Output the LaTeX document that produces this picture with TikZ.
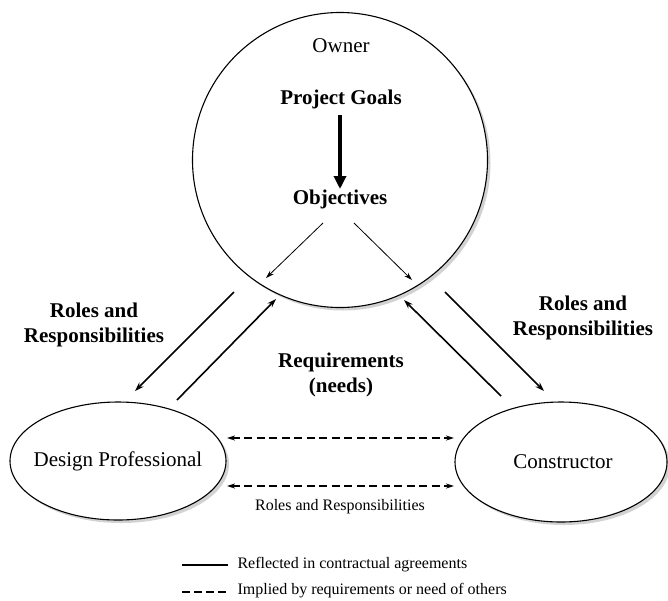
\documentclass[tikz,border=0pt]{standalone}
\usepackage{fontspec}
\setmainfont{Liberation Serif}
\usetikzlibrary{arrows.meta,shadows,shapes.geometric}
\begin{document}
\begin{tikzpicture}[x=1pt,y=-1pt,
  party/.style={draw,line width=1.1pt,fill=white,
    drop shadow={opacity=0.35,shadow xshift=3pt,shadow yshift=-3pt}},
  flow/.style={-{Stealth[length=9pt,width=6pt]},line width=1.6pt},
  thinflow/.style={-{Stealth[length=8pt,width=5pt]},line width=0.8pt},
  implied/.style={{Stealth[length=8pt,width=5pt]}-{Stealth[length=8pt,width=5pt]},
    line width=1.4pt,dash pattern=on 8pt off 4.5pt},
  boldlabel/.style={font=\fontsize{21}{25.5}\selectfont\bfseries,align=center},
  plainlabel/.style={font=\fontsize{21}{25.5}\selectfont,align=center},
  smalllabel/.style={font=\fontsize{16}{18}\selectfont},
  legendtext/.style={font=\fontsize{16}{18}\selectfont,anchor=west}]
\useasboundingbox (0,0) rectangle (668,600);
\fill[white] (0,0) rectangle (668,600);

% the three parties
\draw[party] (340,160) circle[radius=147.5];
\node[party,ellipse,minimum width=216pt,minimum height=118pt,inner sep=0pt]
  (dp) at (118,461) {};
\node[party,ellipse,minimum width=212pt,minimum height=120pt,inner sep=0pt]
  (con) at (561,462) {};
\node[plainlabel] at (dp) {Design Professional};
\node[plainlabel] at (563,462) {Constructor};

% inside the owner circle
\node[plainlabel] (owner) at (341,46) {Owner};
\node[boldlabel] (goals) at (341,99) {Project Goals};
\node[boldlabel] (obj) at (340,199) {Objectives};
\coordinate (g1) at (340,115);
\coordinate (g2) at (340,189);
\draw[-{Triangle[length=13pt,width=12pt]},line width=3.2pt] (g1) -- (g2);

% objectives split towards both parties
\coordinate (oL1) at (323,223); \coordinate (oL2) at (266,278);
\coordinate (oR1) at (354,223); \coordinate (oR2) at (412,280);
\draw[thinflow] (oL1) -- (oL2);
\draw[thinflow] (oR1) -- (oR2);

% contractual links owner <-> design professional
\coordinate (a1) at (234,292); \coordinate (a2) at (135,391);
\coordinate (b1) at (177,400); \coordinate (b2) at (276,299);
\draw[flow] (a1) -- (a2);
\draw[flow] (b1) -- (b2);

% contractual links owner <-> constructor
\coordinate (c1) at (501,396); \coordinate (c2) at (404,300);
\coordinate (d1) at (445,292); \coordinate (d2) at (544,391);
\draw[flow] (c1) -- (c2);
\draw[flow] (d1) -- (d2);

\node[boldlabel] (rl) at (94,325) {Roles and\\Responsibilities};
\node[boldlabel] (rr) at (583,318) {Roles and\\Responsibilities};
\node[boldlabel] (req) at (341,375) {Requirements\\(needs)};

% implied links between design professional and constructor
\coordinate (e1) at (227,438); \coordinate (e2) at (454,438);
\coordinate (f1) at (227,486); \coordinate (f2) at (454,486);
\draw[implied] (e1) -- (e2);
\draw[implied] (f1) -- (f2);
\node[smalllabel] (rrs) at (340,507) {Roles and Responsibilities};

% legend
\coordinate (l1) at (182,565); \coordinate (l2) at (228,565);
\coordinate (m1) at (182,592); \coordinate (m2) at (228,592);
\draw[line width=1.8pt] (l1) -- (l2);
\draw[line width=1.8pt,dash pattern=on 8pt off 4pt] (m1) -- (m2);
\node[legendtext] (lg1) at (234,565) {Reflected in contractual agreements};
\node[legendtext] (lg2) at (234,591) {Implied by requirements or need of others};
\end{tikzpicture}
\end{document}
